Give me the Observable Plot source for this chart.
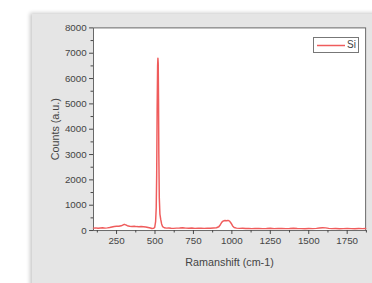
<!DOCTYPE html>
<html>
<head>
<meta charset="utf-8">
<script src="https://cdn.jsdelivr.net/npm/d3@7"></script>
<script src="https://cdn.jsdelivr.net/npm/@observablehq/plot@0.6"></script>
<style>
  html, body { margin: 0; padding: 0; width: 372px; height: 283px; overflow: hidden; background: #fff; }
  #panel { position: absolute; left: 32px; top: 14px; width: 420px; height: 300px; background: #e5e5e5;
           box-shadow: -2px -1px 4px rgba(0,0,0,0.22); }
  #chart { position: absolute; left: 0; top: 0; }
  #legend { position: absolute; left: 313px; top: 37px; width: 44px; height: 14px; border: 1px solid #777;
            background: #fff; font: 10px "Liberation Sans", Arial, sans-serif; color: #444; }
  #legend svg { position: absolute; left: 2px; top: 6px; }
  #legend span { position: absolute; left: 33px; top: 1px; }
</style>
</head>
<body>
<div id="panel"></div>
<div id="chart"></div>
<div id="legend"><svg width="30" height="3"><line x1="1" x2="29" y1="1.5" y2="1.5" stroke="#ef5c5c" stroke-width="1.5"/></svg><span>Si</span></div>
<script>
const seriesName = "Si";
const shift = [100,115,130,145,160,175,190,205,220,235,250,265,280,290,300,310,320,335,350,365,380,395,410,425,440,455,470,480,490,498,504,508,511,514,517,519,521,523,525,528,532,537,543,550,560,575,590,605,620,640,660,680,700,720,740,760,780,800,820,840,860,880,900,915,925,935,945,955,965,975,985,995,1005,1015,1030,1050,1070,1090,1110,1130,1150,1175,1200,1225,1250,1275,1300,1325,1350,1375,1400,1425,1450,1475,1500,1525,1550,1570,1590,1610,1630,1650,1675,1700,1725,1750,1775,1800,1825,1850,1870];
const counts = [95,105,90,100,110,95,105,120,140,160,165,170,185,215,245,225,190,170,160,165,155,150,160,150,140,120,100,80,85,120,350,900,2200,4800,6500,6800,6600,5200,3000,1300,650,450,260,150,110,95,100,90,85,95,100,110,95,90,100,85,95,90,85,95,90,100,110,150,230,330,380,395,390,400,370,290,180,120,95,85,90,80,85,75,80,85,75,80,90,75,80,85,75,80,90,80,75,70,80,75,85,100,110,105,85,75,80,70,75,80,75,70,80,75,80];
const xTicks = [250,500,750,1000,1250,1500,1750];
const xMinor = [125,375,625,875,1125,1375,1625,1875];
const yTicks = [0,1000,2000,3000,4000,5000,6000,7000,8000];
const yMinor = [500,1500,2500,3500,4500,5500,6500,7500];

const data = shift.map((s, i) => ({shift: s, counts: counts[i], series: seriesName}));

const chart = Plot.plot({
  width: 380, height: 283,
  marginLeft: 95, marginRight: 7, marginTop: 28, marginBottom: 48,
  style: {background: "transparent", fontFamily: "'Liberation Sans', Arial, sans-serif", fontSize: "10px", color: "#444"},
  x: {domain: [100, 1870]},
  y: {domain: [0, 8000]},
  marks: [
    Plot.frame({fill: "white", stroke: "#666"}),
    Plot.line(data, {x: "shift", y: "counts", stroke: "#ef5c5c", strokeWidth: 1.5}),
    Plot.axisX({ticks: xTicks, tickSize: 4, tickPadding: 3, tickFormat: d3.format("d"), label: "Ramanshift (cm-1)", labelAnchor: "center", labelOffset: 36, labelArrow: "none"}),
    Plot.axisX({ticks: xMinor, tickSize: 2.5, tickFormat: () => "", label: null}),
    Plot.axisY({ticks: yTicks, tickSize: 4, tickPadding: 3, tickFormat: d3.format("d"), label: "Counts (a.u.)", labelAnchor: "center", labelOffset: 43, labelArrow: "none"}),
    Plot.axisY({ticks: yMinor, tickSize: 2.5, tickFormat: () => "", label: null})
  ]
});
document.getElementById("chart").appendChild(chart);
d3.select(chart).selectAll('g[aria-label="x-axis label"] text, g[aria-label="y-axis label"] text')
  .attr("font-size", "11px").attr("fill", "#444");
</script>
</body>
</html>
